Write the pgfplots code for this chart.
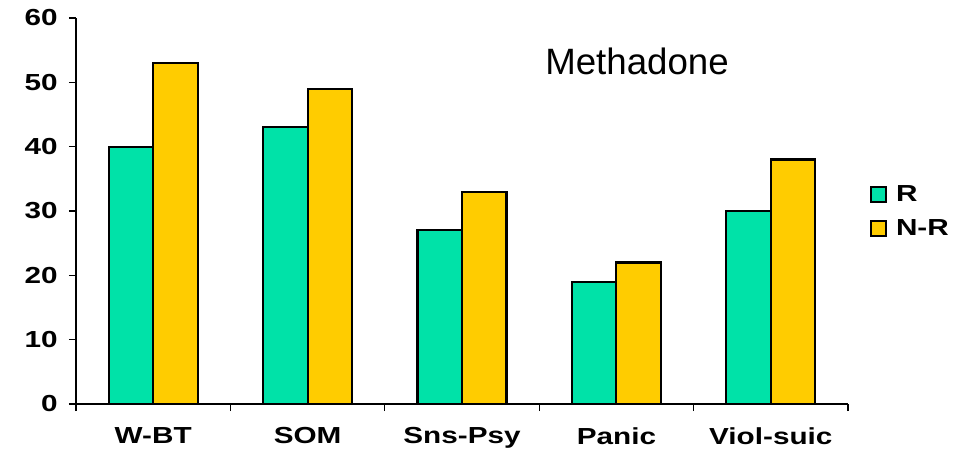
\documentclass[border=0pt]{standalone}
\usepackage{fontspec}
\setmainfont{Liberation Sans}
\newfontfamily\lbl[FakeStretch=1.28]{Liberation Sans}
\usepackage{pgfplots}
\pgfplotsset{compat=1.18}
\definecolor{cR}{RGB}{0,226,168}
\definecolor{cNR}{RGB}{255,204,0}
\newcommand{\lblfont}{\lbl\bfseries\fontsize{17.4}{20}\selectfont}
\begin{document}
\begin{tikzpicture}
\path[use as bounding box] (-57pt,-36pt) rectangle (669.75pt,303pt);
\begin{axis}[
  at={(0pt,0pt)}, anchor=south west,
  scale only axis, width=579pt, height=289.5pt,
  xmin=-0.5, xmax=4.5, ymin=0, ymax=60,
  axis x line=bottom, axis y line=left,
  axis line style={-, line width=0.9pt, black},
  x axis line style={-}, y axis line style={-},
  ybar=0pt, bar width=33.4pt,
  tick align=outside, major tick length=5.25pt,
  tick style={black, line width=0.9pt},
  xtick={-0.5,0.5,1.5,2.5,3.5,4.5},
  xticklabels={W-BT,SOM,Sns-Psy,Panic,Viol-suic,{}},
  xticklabel style={xshift=57.9pt, font=\lblfont, yshift=-9pt},
  ytick={0,10,20,30,40,50,60},
  yticklabel style={font=\lblfont, xshift=-5pt},
  /pgf/number format/assume math mode=true,
  legend image code/.code={\draw[#1, line width=1.1pt] (0pt,-5.6pt) rectangle (11.2pt,5.6pt);},
  legend style={draw=none, fill=none, at={(1.0285,0.4987)}, anchor=west,
    inner sep=0pt, font=\lblfont, row sep=8pt},
  legend cell align=left,
]
\addplot[fill=cR, draw=black, line width=1.6pt] coordinates {(0,40) (1,43) (2,27) (3,19) (4,30)};
\addplot[fill=cNR, draw=black, line width=1.6pt] coordinates {(0,53) (1,49) (2,33) (3,22) (4,38)};
\legend{\hspace{5pt}R,\hspace{5pt}N-R}
\node[font=\fontsize{27.5}{30}\selectfont] at (rel axis cs:0.7267,0.8886) {Methadone};
\end{axis}
\end{tikzpicture}
\end{document}
